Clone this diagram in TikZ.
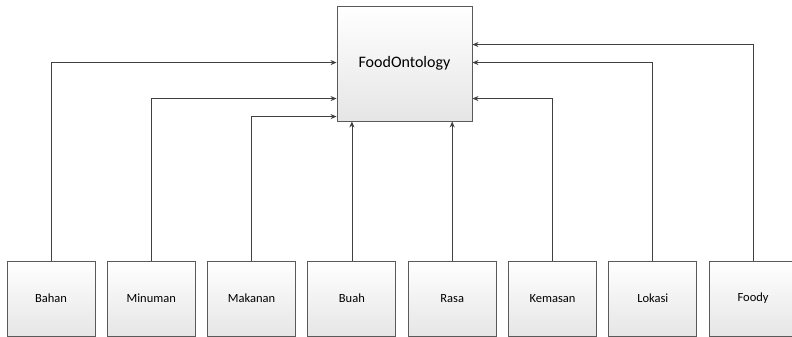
\documentclass[tikz,border=0pt]{standalone}
\usepackage{fontspec}
\setmainfont{Carlito}
\usepackage{tikz}
\usetikzlibrary{arrows.meta,positioning,calc}

\definecolor{linegray}{HTML}{404040}
\definecolor{boxgray}{HTML}{5A5A5A}

\begin{document}
\begin{tikzpicture}[
    x=1pt, y=-1pt,
    concept/.style={rectangle, draw=boxgray, line width=0.9pt, top color=white, bottom color=black!10, minimum width=88pt, minimum height=75pt, inner sep=0pt, align=center, font=\fontsize{12.5}{14}\selectfont},
    root/.style={concept, minimum width=135pt, minimum height=115pt, font=\fontsize{16}{19}\selectfont},
    arrow/.style={-{Stealth[length=6pt,width=5pt]}, draw=linegray, line width=0.8pt},
    node distance=11.4pt
]
\useasboundingbox (0,0) rectangle (792,337);

\node[root] (food) at (404.5,63.5) {FoodOntology};

\node[concept] (bahan) at (51,298.5) {Bahan};
\node[concept, right=of bahan] (minuman) {Minuman};
\node[concept, right=of minuman] (makanan) {Makanan};
\node[concept, right=of makanan] (buah) {Buah};
\node[concept, right=of buah] (rasa) {Rasa};
\node[concept, right=of rasa] (kemasan) {Kemasan};
\node[concept, right=of kemasan] (lokasi) {Lokasi};
\node[concept, right=of lokasi] (foody) {Foody};

% left side
\draw[arrow] (bahan.north) |- ([yshift=-57pt]food.north west);
\draw[arrow] (minuman.north) |- ([yshift=-93pt]food.north west);
\draw[arrow] (makanan.north) |- ([yshift=-111pt]food.north west);
% straight up
\draw[arrow] (buah.north) -- (buah.north |- food.south);
\draw[arrow] (rasa.north) -- (rasa.north |- food.south);
% right side
\draw[arrow] (kemasan.north) |- ([yshift=-93pt]food.north east);
\draw[arrow] (lokasi.north) |- ([yshift=-57pt]food.north east);
\draw[arrow] (foody.north) |- ([yshift=-39pt]food.north east);

\end{tikzpicture}
\end{document}
